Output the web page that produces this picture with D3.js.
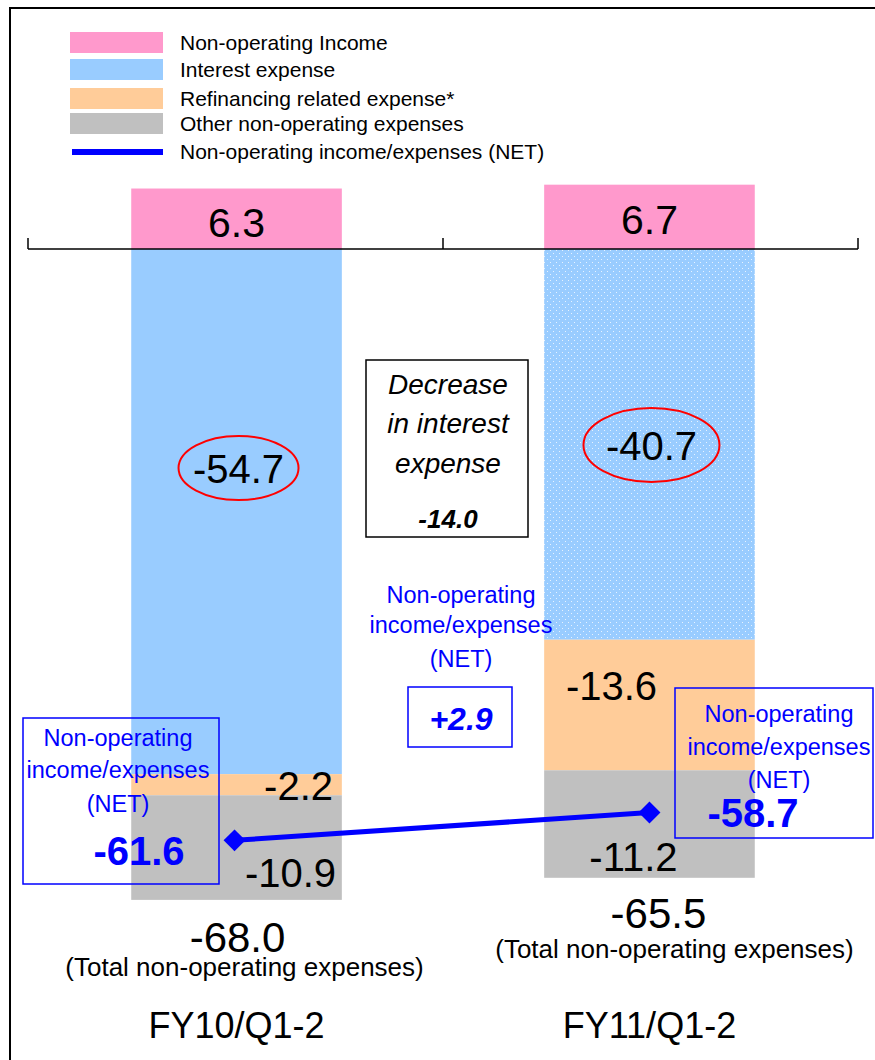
<!DOCTYPE html>
<html>
<head>
<meta charset="utf-8">
<script src="https://cdn.jsdelivr.net/npm/d3@7"></script>
<style>
  html, body { margin: 0; padding: 0; background: #fff; }
  svg { display: block; font-family: "Liberation Sans", Arial, sans-serif; }
</style>
</head>
<body>
<svg id="chart" width="875" height="1060"></svg>
<script>
// Periods shown on the x axis
const periods = ["FY10/Q1-2", "FY11/Q1-2"];
// Non-operating income (positive) per period
const income = [6.3, 6.7];
// Expense components (negative) per period
const interestExpense = [-54.7, -40.7];
const refinancingExpense = [-2.2, -13.6];
const otherExpense = [-10.9, -11.2];
// Totals and net results
const totalExpense = [-68.0, -65.5];
const netIncomeExpense = [-61.6, -58.7];
const interestChange = -14.0;
const netChange = 2.9;

const legendItems = [
  { label: "Non-operating Income", key: "income" },
  { label: "Interest expense", key: "interest" },
  { label: "Refinancing related expense*", key: "refinancing" },
  { label: "Other non-operating expenses", key: "other" },
  { label: "Non-operating income/expenses (NET)", key: "net" }
];

const colors = {
  income: "#FF99CC",
  interest: "#99CCFF",
  refinancing: "#FFCC99",
  other: "#C0C0C0",
  net: "#0000FF"
};

const svg = d3.select("#chart");
const W = 875, H = 1060;

// dotted fill used for the later period's interest expense
const defs = svg.append("defs");
const pat = defs.append("pattern")
  .attr("id", "dots").attr("patternUnits", "userSpaceOnUse")
  .attr("width", 6).attr("height", 6);
pat.append("rect").attr("width", 6).attr("height", 6).attr("fill", colors.interest);
pat.append("rect").attr("x", 1).attr("y", 1).attr("width", 1).attr("height", 1).attr("fill", "#E6F2FF");
pat.append("rect").attr("x", 4).attr("y", 4).attr("width", 1).attr("height", 1).attr("fill", "#E6F2FF");

// outer frame
svg.append("path")
  .attr("d", `M10,${H} L10,8 L${W},8`)
  .attr("fill", "none").attr("stroke", "#000").attr("stroke-width", 2);

// scales
const x = d3.scaleBand().domain(periods).range([28, 858]).paddingInner(0.49).paddingOuter(0.25);
const y = d3.scaleLinear().domain([10, -70]).range([249 - 96, 249 + 672]);
const bw = x.bandwidth();
const cx = p => x(p) + bw / 2;
const fmt = v => v.toFixed(1);

// text helper
function label(tx, ty, str, size, opts = {}) {
  return svg.append("text")
    .attr("x", tx).attr("y", ty)
    .attr("text-anchor", opts.anchor || "middle")
    .attr("font-size", size)
    .attr("font-weight", opts.bold ? "bold" : null)
    .attr("font-style", opts.italic ? "italic" : null)
    .attr("fill", opts.fill || "#000")
    .text(str);
}

// stacked segments built from the component arrays
const segments = [];
periods.forEach((p, i) => {
  segments.push({ p, i, key: "income", y0: 0, y1: income[i] });
  let acc = 0;
  [["interest", interestExpense], ["refinancing", refinancingExpense], ["other", otherExpense]]
    .forEach(([key, arr]) => {
      segments.push({ p, i, key, y0: acc, y1: acc + arr[i] });
      acc += arr[i];
    });
});

svg.append("g").selectAll("rect").data(segments).join("rect")
  .attr("x", d => x(d.p))
  .attr("width", bw)
  .attr("y", d => y(Math.max(d.y0, d.y1)))
  .attr("height", d => Math.abs(y(d.y1) - y(d.y0)))
  .attr("fill", d => (d.key === "interest" && d.i === 1) ? "url(#dots)" : colors[d.key]);

// zero baseline with tick marks at band edges
const axisY = y(0);
svg.append("line").attr("x1", 28).attr("x2", 858).attr("y1", axisY).attr("y2", axisY)
  .attr("stroke", "#000").attr("stroke-width", 1.5);
[28, 443, 858].forEach(tx => {
  svg.append("line").attr("x1", tx).attr("x2", tx).attr("y1", axisY - 11).attr("y2", axisY)
    .attr("stroke", "#000").attr("stroke-width", 1.5);
});

// legend
const lg = svg.append("g");
const legendY = [43, 70, 99, 124, 152];
legendItems.forEach((it, k) => {
  if (it.key === "net") {
    lg.append("rect").attr("x", 72).attr("y", legendY[k] - 3).attr("width", 91).attr("height", 6).attr("fill", colors.net);
  } else {
    lg.append("rect").attr("x", 70).attr("y", legendY[k] - 11).attr("width", 93).attr("height", 21).attr("fill", colors[it.key]);
  }
  label(180, legendY[k] + 7, it.label, 21, { anchor: "start" });
});

// income labels
const incomeBase = [237, 234];
periods.forEach((p, i) => label(cx(p), incomeBase[i], fmt(income[i]), 41));

// interest labels with red ellipses
const interestLab = [{ cy: 468, rx: 60, ry: 32 }, { cy: 445, rx: 68, ry: 37 }];
periods.forEach((p, i) => {
  const lx = cx(p) + 2, ly = interestLab[i].cy;
  svg.append("ellipse").attr("cx", lx).attr("cy", ly).attr("rx", interestLab[i].rx).attr("ry", interestLab[i].ry)
    .attr("fill", "none").attr("stroke", "#FF0000").attr("stroke-width", 2);
  label(lx, ly + 15, fmt(interestExpense[i]), 40);
});

// refinancing & other labels
const smallLabs = [
  { p: 0, v: refinancingExpense[0], dx: 62, yy: 800 },
  { p: 0, v: otherExpense[0], dx: 54, yy: 887 },
  { p: 1, v: refinancingExpense[1], dx: -38, yy: 700 },
  { p: 1, v: otherExpense[1], dx: -16, yy: 871 }
];
smallLabs.forEach(d => label(cx(periods[d.p]) + d.dx, d.yy, fmt(d.v), 40));

// totals under bars
const totalPos = [{ vx: 1, vy: 952, tx: 8, ty: 976 }, { vx: 9, vy: 928, tx: 25, ty: 958 }];
periods.forEach((p, i) => {
  label(cx(p) + totalPos[i].vx, totalPos[i].vy, fmt(totalExpense[i]), 42);
  label(cx(p) + totalPos[i].tx, totalPos[i].ty, "(Total non-operating expenses)", 26);
});

// category labels
periods.forEach(p => label(cx(p), 1038, p, 36));

// NET line with diamond markers
const netPts = periods.map((p, i) => [cx(p) + (i === 0 ? -2 : 0), y(netIncomeExpense[i])]);
svg.append("path").attr("d", d3.line()(netPts))
  .attr("fill", "none").attr("stroke", colors.net).attr("stroke-width", 5);
svg.append("g").selectAll("path").data(netPts).join("path")
  .attr("transform", d => `translate(${d[0]},${d[1]}) rotate(45)`)
  .attr("d", d3.symbol(d3.symbolSquare, 240)())
  .attr("fill", colors.net);

// NET callout text block
const netLines = ["Non-operating", "income/expenses", "(NET)"];
function netText(tx, baselines, size) {
  netLines.forEach((t, k) => label(tx, baselines[k], t, size, { fill: colors.net }));
}
function box(bx, by, bwid, bh, stroke) {
  svg.append("rect").attr("x", bx).attr("y", by).attr("width", bwid).attr("height", bh)
    .attr("fill", "none").attr("stroke", stroke).attr("stroke-width", 1.5);
}

// left callout: first period NET
box(23, 718, 196, 166, colors.net);
netText(118, [746, 778, 812], 23.5);
label(139, 865, fmt(netIncomeExpense[0]), 40, { bold: true, fill: colors.net });

// right callout: second period NET
box(675, 688, 198, 150, colors.net);
netText(779, [722, 755, 788], 23.5);
label(753, 827, fmt(netIncomeExpense[1]), 40, { bold: true, fill: colors.net });

// change in NET
netText(461, [603, 633, 667], 23.5);
box(408, 687, 104, 60, colors.net);
label(461, 730, "+" + fmt(netChange), 32, { bold: true, italic: true, fill: colors.net });

// decrease in interest expense box
box(366, 360, 162, 177, "#000");
[["Decrease", 394], ["in interest", 433], ["expense", 473]].forEach(([t, ty]) =>
  label(448, ty, t, 28, { italic: true }));
label(448, 528, fmt(interestChange), 26, { bold: true, italic: true });
</script>
</body>
</html>
